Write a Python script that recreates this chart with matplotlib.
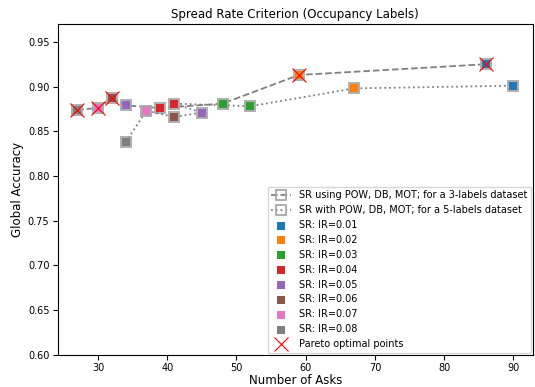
import numpy as np
import matplotlib
matplotlib.use("Agg")
import matplotlib.pyplot as plt

# IR values, from 0.08 down to 0.01
ir_values = [0.08, 0.07, 0.06, 0.05, 0.04, 0.03, 0.02, 0.01]
ir_colors = ["tab:gray", "tab:pink", "tab:brown", "tab:purple",
             "tab:red", "tab:green", "tab:orange", "tab:blue"]

# 3-labels dataset
asks_3 = [27, 30, 32, 34, 39, 48, 59, 86]
acc_3 = [0.874, 0.876, 0.887, 0.879, 0.876, 0.881, 0.913, 0.925]

# 5-labels dataset
asks_5 = [34, 37, 41, 45, 41, 52, 67, 90]
acc_5 = [0.838, 0.873, 0.866, 0.871, 0.881, 0.878, 0.898, 0.901]

# pareto optimal points
pareto_x = [27, 30, 32, 59, 86]
pareto_y = [0.874, 0.876, 0.887, 0.913, 0.925]

fig = plt.figure(figsize=(5.35, 3.87), dpi=100)
ax = fig.add_axes([0.108, 0.083, 0.888, 0.855])

ax.plot(asks_3, acc_3, linestyle="--", color="gray", linewidth=1.3,
        marker="s", markersize=6.5, markerfacecolor="none",
        markeredgecolor="#a8a8a8", markeredgewidth=1.3,
        label="SR using POW, DB, MOT; for a 3-labels dataset", zorder=2)
ax.plot(asks_5, acc_5, linestyle=":", color="gray", linewidth=1.3,
        marker="s", markersize=6.5, markerfacecolor="none",
        markeredgecolor="#a8a8a8", markeredgewidth=1.3,
        label="SR with POW, DB, MOT; for a 5-labels dataset", zorder=2)

# one colour per IR, legend from 0.01 to 0.08
for i in range(len(ir_values) - 1, -1, -1):
    ax.scatter([asks_3[i], asks_5[i]], [acc_3[i], acc_5[i]], marker="s",
               s=28, color=ir_colors[i], linewidths=0,
               label="SR: IR=%.2f" % ir_values[i], zorder=3)

ax.plot(pareto_x, pareto_y, linestyle="none", marker="x", color="red",
        markersize=10, markeredgewidth=0.8, label="Pareto optimal points",
        zorder=4)

ax.set_xlim(24.2, 92.8)
ax.set_ylim(0.60, 0.97)
ax.set_yticks(np.arange(0.60, 0.951, 0.05))
ax.tick_params(labelsize=7, pad=2.5)
ax.set_title("Spread Rate Criterion (Occupancy Labels)", fontsize=8.5, pad=4)
ax.set_xlabel("Number of Asks", fontsize=8.5, labelpad=0.5)
ax.set_ylabel("Global Accuracy", fontsize=8.5, labelpad=3)
ax.legend(loc="lower right", fontsize=7, borderaxespad=0.2)

fig.savefig("out.png", dpi=100)
